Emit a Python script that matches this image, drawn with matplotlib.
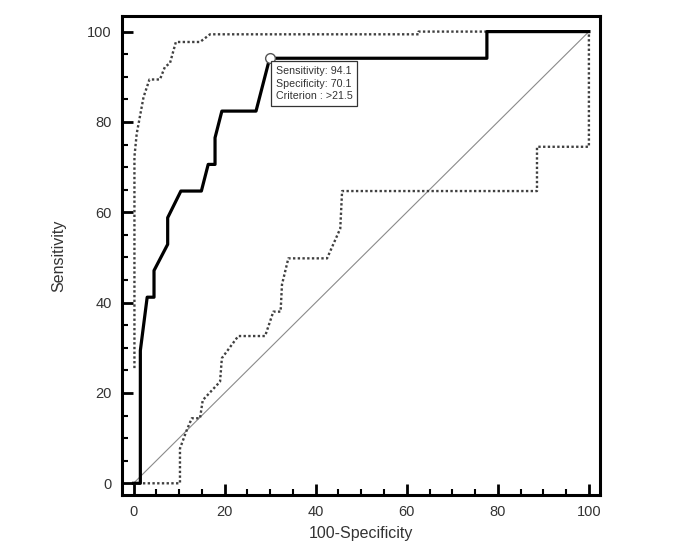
import matplotlib
matplotlib.use("Agg")
import matplotlib.pyplot as plt
from matplotlib.ticker import MultipleLocator

plt.rcParams["font.family"] = ["Liberation Sans", "DejaVu Sans"]

# ROC curve (100-specificity, sensitivity)
roc_x = [0, 1.5, 1.5, 3.0, 4.5, 4.5, 7.5, 7.5, 10.4, 14.9, 16.4, 17.9, 17.9,
         19.4, 26.9, 29.9, 77.6, 77.6, 100]
roc_y = [0, 0, 29.4, 41.2, 41.2, 47.1, 52.9, 58.8, 64.7, 64.7, 70.6, 70.6, 76.5,
         82.4, 82.4, 94.1, 94.1, 100, 100]

# confidence bounds
upper_x = [0.2, 0.2, 0.7, 2.2, 3.5, 5.8, 6.9, 8.0, 9.3, 14.6, 16.8, 62.6, 62.6, 100]
upper_y = [25.5, 72.3, 77.4, 85.5, 89.4, 89.4, 92.2, 93.0, 97.7, 97.7, 99.4, 99.4, 100, 100]

lower_x = [0, 10.2, 10.2, 11.7, 12.8, 14.6, 15.2, 19.0, 19.4, 23.0, 28.9, 30.7,
           32.3, 32.6, 34.0, 42.5, 45.4, 45.8, 88.6, 88.6, 100, 100]
lower_y = [0, 0, 7.7, 11.8, 14.4, 14.4, 18.4, 22.5, 27.7, 32.6, 32.6, 38.0,
           38.0, 44.0, 49.8, 49.8, 56.4, 64.7, 64.7, 74.5, 74.5, 100]

# optimal criterion point
crit_x, crit_y = 29.9, 94.1
crit_text = "Sensitivity: 94.1\nSpecificity: 70.1\nCriterion : >21.5"

fig = plt.figure(figsize=(6.76, 5.6), dpi=100)
ax = fig.add_axes([0.180, 0.116, 0.708, 0.855])

ax.plot([0, 100], [0, 100], color="#8a8a8a", lw=0.8, zorder=1)
ax.plot(upper_x, upper_y, color="#404040", lw=1.7, ls=(0, (1, 1)), zorder=2)
ax.plot(lower_x, lower_y, color="#404040", lw=1.7, ls=(0, (1, 1)), zorder=2)
ax.plot(roc_x, roc_y, color="black", lw=2.3, zorder=3)
ax.plot([crit_x], [crit_y], marker="o", ms=7, mfc="white", mec="#555555",
        mew=1.0, zorder=4)
ax.annotate(crit_text, xy=(crit_x, crit_y), xytext=(6, -8),
            textcoords="offset pixels", ha="left", va="top", fontsize=7.7,
            color="#333333", linespacing=1.3, zorder=5,
            bbox=dict(boxstyle="square,pad=0.45", fc="white", ec="#333333", lw=0.9))

ax.set_xlim(-2.6, 102.5)
ax.set_ylim(-2.6, 103.4)
ax.xaxis.set_major_locator(MultipleLocator(20))
ax.xaxis.set_minor_locator(MultipleLocator(5))
ax.yaxis.set_major_locator(MultipleLocator(20))
ax.yaxis.set_minor_locator(MultipleLocator(5))
ax.tick_params(which="major", direction="in", length=8, width=2, pad=7,
               labelsize=10.5, labelcolor="#333333")
ax.tick_params(which="minor", direction="in", length=4, width=1.5)

for s in ax.spines.values():
    s.set_linewidth(2.2)

ax.set_xlabel("100-Specificity", fontsize=11.5, color="#333333", labelpad=5)
ax.set_ylabel("Sensitivity", fontsize=11.5, color="#333333", labelpad=15)

fig.savefig("out.png", dpi=100)
